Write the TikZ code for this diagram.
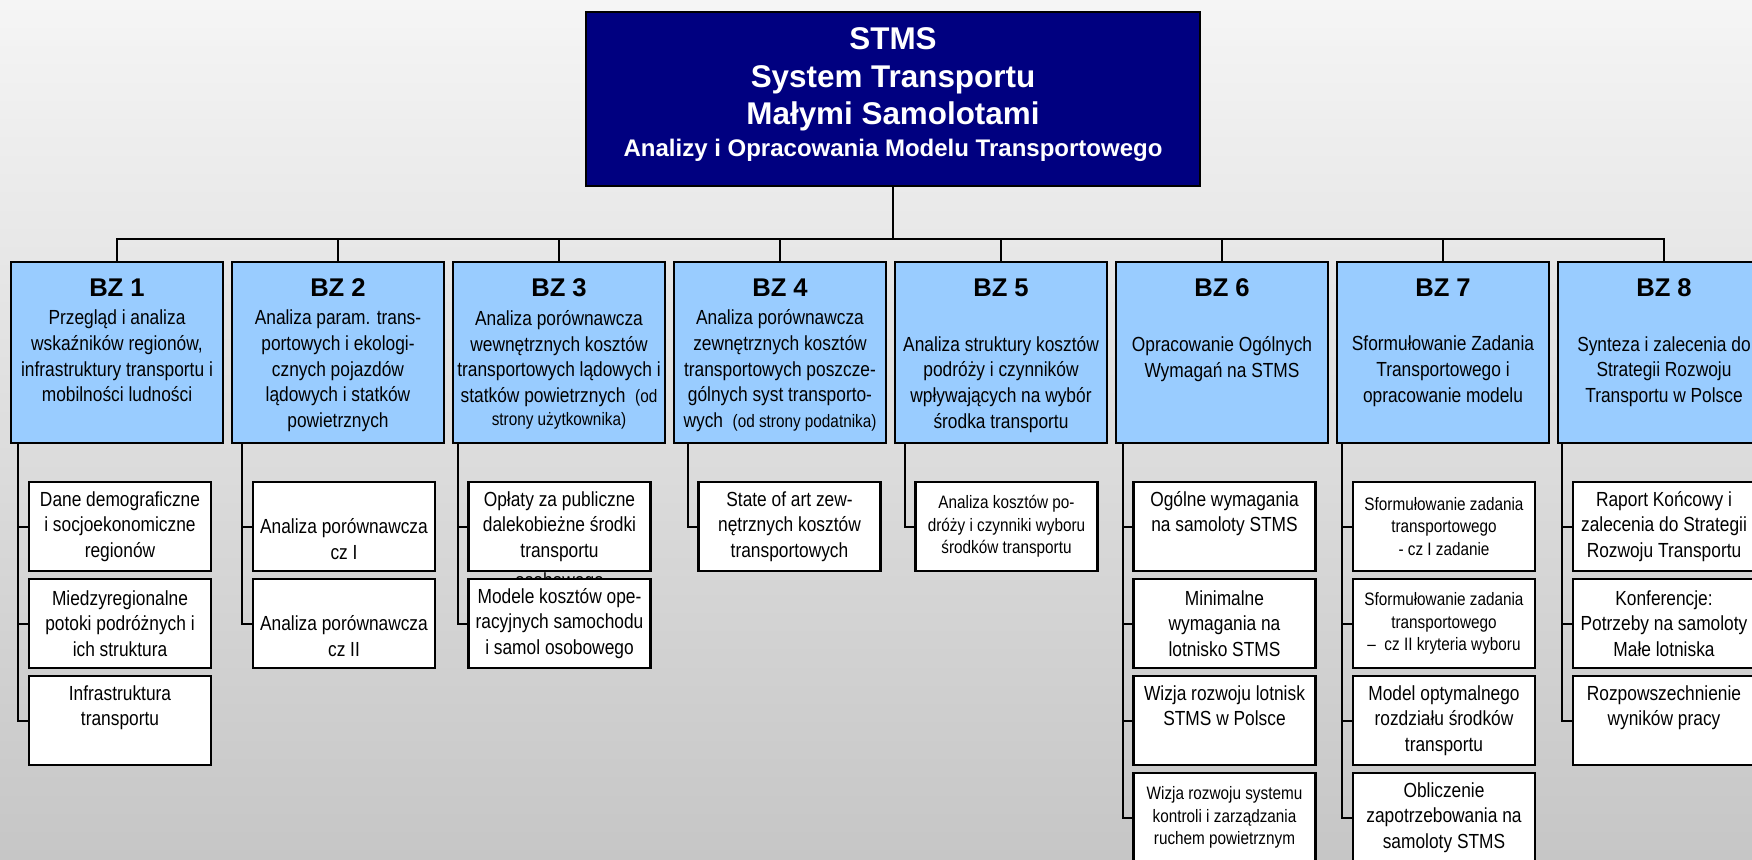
\documentclass[tikz,border=0pt]{standalone}
\usepackage{fontspec}
\setmainfont{Liberation Sans}
\newfontfamily\narrowsans[FakeStretch=0.85]{Liberation Sans}
\usetikzlibrary{positioning}

\definecolor{stmsnavy}{RGB}{0,0,128}
\definecolor{bzblue}{RGB}{153,204,255}
\definecolor{bgtop}{RGB}{245,245,245}
\definecolor{bgbottom}{RGB}{198,198,198}

\newcommand{\stmsfont}{\fontsize{15.7}{18.75}\selectfont\bfseries}
\newcommand{\bzheadfont}{\fontsize{12.8}{15}\selectfont\bfseries}
\newcommand{\bzbodyfont}{\narrowsans\fontsize{10.2}{12.85}\selectfont}
\newcommand{\bzsmallfont}{\narrowsans\fontsize{9}{11.25}\selectfont}
\newcommand{\emptyline}{\vphantom{Ag}}

\begin{document}
\begin{tikzpicture}[x=0.5pt,y=-0.5pt,node distance=4pt,
	stms/.style={draw,line width=1pt,outer sep=0pt,fill=stmsnavy,text=white,font=\stmsfont,align=center,
		minimum width=307pt,minimum height=87pt},
	bzbox/.style={draw,line width=1.2pt,outer sep=0pt,fill=bzblue,minimum width=106pt,minimum height=90.5pt,inner sep=0pt},
	bzhead/.style={font=\bzheadfont,inner sep=0pt},
	bzbody/.style={font=\bzbodyfont,align=center,inner sep=0pt},
	sub/.style={draw,line width=1.2pt,outer sep=0pt,fill=white,minimum width=91pt,minimum height=44.5pt,
		inner sep=1pt,font=\bzbodyfont,align=center},
	subsmall/.style={sub,font=\bzsmallfont},
	link/.style={line width=1pt}]
	% page and background
	\useasboundingbox (0,0) rectangle (1752,859);
	\fill[top color=bgtop,bottom color=bgbottom] (0,0) rectangle (1752,859);
	\clip (0,0) rectangle (1752,859);

	\node[stms,anchor=north] (stms) at (893,12) {STMS\\System Transportu\\Małymi Samolotami\\[-2.75pt]{\fontsize{12}{14}\selectfont Analizy i Opracowania Modelu Transportowego}\\[-12pt]~};

	% work packages BZ 1..8
	\node[bzbox,anchor=north] (bz1) at (117,262) {};
	\node[bzbox,right=4.5pt of bz1] (bz2) {};
	\node[bzbox,right=4.5pt of bz2] (bz3) {};
	\node[bzbox,right=4.5pt of bz3] (bz4) {};
	\node[bzbox,right=4.5pt of bz4] (bz5) {};
	\node[bzbox,right=4.5pt of bz5] (bz6) {};
	\node[bzbox,right=4.5pt of bz6] (bz7) {};
	\node[bzbox,right=4.5pt of bz7] (bz8) {};

	\node[bzhead,below=8pt of bz1.north] (h1) {BZ 1};
	\node[bzhead,below=8pt of bz2.north] (h2) {BZ 2};
	\node[bzhead,below=8pt of bz3.north] (h3) {BZ 3};
	\node[bzhead,below=8pt of bz4.north] (h4) {BZ 4};
	\node[bzhead,below=8pt of bz5.north] (h5) {BZ 5};
	\node[bzhead,below=8pt of bz6.north] (h6) {BZ 6};
	\node[bzhead,below=8pt of bz7.north] (h7) {BZ 7};
	\node[bzhead,below=8pt of bz8.north] (h8) {BZ 8};

	\node[bzbody,below=6.5pt of h1] (t1) {Przegląd i analiza\\wskaźników regionów,\\infrastruktury transportu i\\mobilności ludności};
	\node[bzbody,below=6.5pt of h2] (t2) {Analiza param. trans-\\portowych i ekologi-\\cznych pojazdów\\lądowych i statków\\powietrznych};
	\node[bzbody,below=6.5pt of h3] (t3) {Analiza porównawcza\\wewnętrznych kosztów\\transportowych lądowych i\\statków powietrznych \ {\bzsmallfont (od}\\[-1.3pt]{\bzsmallfont strony użytkownika)}};
	\node[bzbody,below=6.5pt of h4] (t4) {Analiza porównawcza\\zewnętrznych kosztów\\transportowych poszcze-\\gólnych syst transporto-\\wych \ {\bzsmallfont (od strony podatnika)}};
	\node[bzbody,below=19.5pt of h5] (t5) {Analiza struktury kosztów\\podróży i czynników\\wpływających na wybór\\środka transportu};
	\node[bzbody,below=19.5pt of h6] (t6) {Opracowanie Ogólnych\\Wymagań na STMS};
	\node[bzbody,below=19.5pt of h7] (t7) {Sformułowanie Zadania\\Transportowego i\\opracowanie modelu};
	\node[bzbody,below=19.5pt of h8] (t8) {Synteza i zalecenia do\\Strategii Rozwoju\\Transportu w Polsce};

	% tasks
	\node[sub,anchor=north] (c11) at (120,482) {Dane demograficzne\\i socjoekonomiczne\\regionów};
	\node[sub,below=of c11] (c12) {Miedzyregionalne\\potoki podróżnych i\\ich struktura};
	\node[sub,below=of c12] (c13) {Infrastruktura\\transportu\\\emptyline};

	\node[sub,anchor=north] (c21) at (344,482) {\emptyline\\Analiza porównawcza\\cz I};
	\node[sub,below=of c21] (c22) {\emptyline\\Analiza porównawcza\\cz II};

	\node[sub,anchor=north,label={[font=\bzbodyfont,inner sep=0pt,label distance=0.5pt]below:osobowego}] (c31) at (559.5,482) {Opłaty za publiczne\\dalekobieżne środki\\transportu};
	\node[sub,below=of c31] (c32) {Modele kosztów ope-\\racyjnych samochodu\\i samol osobowego};

	\node[sub,anchor=north] (c41) at (789.5,482) {State of art zew-\\nętrznych kosztów\\transportowych};

	\node[subsmall,anchor=north] (c51) at (1006.5,482) {Analiza kosztów po-\\dróży i czynniki wyboru\\środków transportu};

	\node[sub,anchor=north] (c61) at (1224.5,482) {Ogólne wymagania\\na samoloty STMS\\\emptyline};
	\node[sub,below=of c61] (c62) {Minimalne\\wymagania na\\lotnisko STMS};
	\node[sub,below=of c62] (c63) {Wizja rozwoju lotnisk\\STMS w Polsce\\\emptyline};
	\node[subsmall,below=of c63] (c64) {Wizja rozwoju systemu\\kontroli i zarządzania\\ruchem powietrznym};

	\node[subsmall,anchor=north] (c71) at (1444,482) {Sformułowanie zadania\\transportowego\\- cz I zadanie};
	\node[subsmall,below=of c71] (c72) {Sformułowanie zadania\\transportowego\\–\ \ cz II kryteria wyboru};
	\node[sub,below=of c72] (c73) {Model optymalnego\\rozdziału środków\\transportu};
	\node[sub,below=of c73] (c74) {Obliczenie\\zapotrzebowania na\\samoloty STMS};

	\node[sub,anchor=north] (c81) at (1664,482) {Raport Końcowy i\\zalecenia do Strategii\\Rozwoju Transportu};
	\node[sub,below=of c81] (c82) {Konferencje:\\Potrzeby na samoloty\\Małe lotniska};
	\node[sub,below=of c82] (c83) {Rozpowszechnienie\\wyników pracy\\\emptyline};

	% tree lines
	\foreach \k in {1,...,8}
		\draw[link] (stms.south) -- ++(0,53) -| (bz\k.north);

	\coordinate (v1) at ([xshift=-5.5pt]c11.west |- bz1.south);
	\coordinate (v2) at ([xshift=-5.5pt]c21.west |- bz2.south);
	\coordinate (v3) at ([xshift=-5.5pt]c31.west |- bz3.south);
	\coordinate (v4) at ([xshift=-5.5pt]c41.west |- bz4.south);
	\coordinate (v5) at ([xshift=-5.5pt]c51.west |- bz5.south);
	\coordinate (v6) at ([xshift=-5.5pt]c61.west |- bz6.south);
	\coordinate (v7) at ([xshift=-5.5pt]c71.west |- bz7.south);
	\coordinate (v8) at ([xshift=-5.5pt]c81.west |- bz8.south);

	\draw[link] (v1) |- (c11.west) (v1) |- (c12.west) (v1) |- (c13.west);
	\draw[link] (v2) |- (c21.west) (v2) |- (c22.west);
	\draw[link] (v3) |- (c31.west) (v3) |- (c32.west);
	\draw[link] (v4) |- (c41.west);
	\draw[link] (v5) |- (c51.west);
	\draw[link] (v6) |- (c61.west) (v6) |- (c62.west) (v6) |- (c63.west) (v6) |- (c64.west);
	\draw[link] (v7) |- (c71.west) (v7) |- (c72.west) (v7) |- (c73.west) (v7) |- (c74.west);
	\draw[link] (v8) |- (c81.west) (v8) |- (c82.west) (v8) |- (c83.west);
\end{tikzpicture}
\end{document}
